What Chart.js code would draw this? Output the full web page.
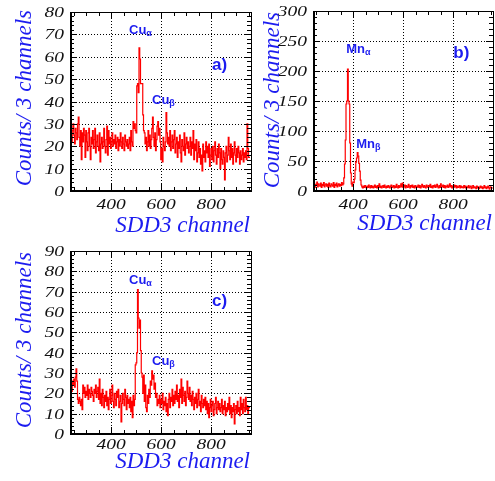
<!DOCTYPE html>
<html>
<head>
<meta charset="utf-8">
<script src="https://cdn.jsdelivr.net/npm/chart.js@4/dist/chart.umd.min.js"></script>
<style>
  html, body { margin: 0; padding: 0; background: #fff; }
  body { width: 495px; height: 481px; position: relative; overflow: hidden; }
  canvas { position: absolute; }
</style>
</head>
<body>
<canvas id="chartA" width="260" height="235" style="left:0;top:0"></canvas>
<canvas id="chartB" width="240" height="235" style="left:255px;top:0"></canvas>
<canvas id="chartC" width="260" height="246" style="left:0;top:235px"></canvas>
<script>
// SDD3 spectra, counts per 3 channels
const binWidth = 3;
const startA = 236, startB = 240, startC = 236;

const countsA = [
  32, 24, 29, 22, 27, 30, 25, 21, 28, 26, 23, 30, 33, 24, 20, 27, 14, 26, 22, 28,
  25, 15, 27, 22, 18, 26, 28, 20, 14, 24, 21, 27, 19, 23, 28, 17, 22, 25, 20, 18,
  26, 13, 21, 24, 19, 22, 28, 20, 17, 23, 29, 16, 27, 21, 24, 19, 22, 26, 20, 23,
  21, 25, 19, 22, 24, 18, 23, 20, 26, 22, 19, 24, 21, 18, 25, 22, 20, 23, 19, 21,
  24, 18, 27, 22, 20, 31, 28, 30, 27, 26, 47, 48, 44, 64, 59, 48, 48, 48, 34, 27,
  26, 21, 24, 18, 22, 27, 20, 25, 19, 23, 28, 33, 24, 20, 26, 18, 23, 29, 31, 25,
  28, 22, 14, 19, 13, 24, 20, 18, 22, 35, 26, 21, 24, 20, 27, 18, 22, 25, 19, 23,
  27, 17, 21, 24, 15, 22, 19, 25, 17, 13, 23, 20, 18, 26, 16, 21, 24, 19, 22, 17,
  20, 24, 16, 22, 19, 27, 14, 21, 18, 23, 13, 17, 22, 15, 19, 12, 16, 9, 21, 15,
  18, 13, 22, 17, 20, 15, 21, 11, 16, 19, 14, 20, 13, 18, 22, 16, 12, 19, 15, 21,
  17, 10, 19, 14, 12, 18, 15, 5, 17, 20, 13, 16, 24, 18, 14, 21, 15, 19, 12, 17,
  22, 16, 13, 19, 15, 20, 17, 12, 18, 14, 16, 19, 13, 17, 15, 18, 14, 30, 19, 15
];

const countsB = [
  19, 8, 14, 6, 11, 9, 15, 7, 12, 10, 8, 13, 6, 11, 9, 14, 7, 10, 12, 8,
  11, 6, 13, 9, 7, 12, 10, 8, 14, 6, 11, 9, 13, 7, 10, 12, 8, 11, 9, 14,
  10, 12, 22, 45, 85, 145, 150, 203, 150, 145, 80, 30, 12, 8, 15, 14, 20, 35, 48, 55,
  64, 58, 46, 33, 18, 10, 7, 5, 8, 6, 9, 7, 5, 8, 6, 10, 7, 5, 9, 6,
  8, 5, 7, 10, 6, 8, 5, 9, 7, 12, 6, 8, 5, 7, 9, 6, 10, 7, 5, 8,
  6, 9, 7, 5, 8, 10, 6, 7, 9, 5, 8, 6, 11, 7, 5, 9, 6, 8, 12, 7,
  13, 6, 8, 10, 5, 9, 7, 6, 11, 8, 5, 9, 7, 10, 6, 8, 5, 9, 7, 6,
  8, 10, 6, 9, 5, 7, 11, 8, 6, 9, 7, 5, 10, 8, 6, 9, 7, 11, 6, 8,
  5, 9, 7, 10, 6, 8, 11, 7, 5, 9, 6, 12, 8, 7, 10, 6, 9, 5, 8, 7,
  10, 6, 8, 12, 7, 9, 5, 8, 6, 10, 7, 9, 5, 8, 6, 7, 9, 5, 8, 6,
  7, 5, 9, 6, 8, 4, 7, 6, 9, 5, 7, 8, 4, 6, 9, 5, 7, 6, 4, 8,
  5, 7, 4, 6, 8, 5, 7, 4, 6, 9, 5, 7, 4, 6, 8, 5, 3, 7, 6, 5
];

const countsC = [
  25, 20, 27, 21, 26, 24, 27, 23, 28, 32, 26, 17, 15, 18, 16, 14, 17, 12, 24, 20,
  23, 18, 21, 19, 24, 17, 22, 20, 18, 23, 21, 19, 16, 22, 20, 24, 18, 21, 23, 17,
  27, 15, 20, 14, 22, 18, 13, 19, 16, 21, 14, 18, 12, 17, 22, 15, 19, 24, 16, 13,
  20, 17, 14, 21, 18, 22, 13, 16, 19, 6, 15, 20, 17, 14, 22, 18, 12, 19, 15, 17,
  13, 18, 11, 16, 8, 19, 14, 17, 34, 35, 40, 71, 57, 52, 56, 41, 30, 28, 20, 29,
  16, 24, 13, 11, 19, 15, 22, 18, 26, 24, 31, 27, 29, 22, 25, 18, 20, 14, 17, 15,
  19, 13, 17, 15, 20, 12, 16, 14, 18, 11, 15, 9, 17, 20, 13, 18, 16, 22, 14, 19,
  15, 21, 17, 24, 16, 19, 13, 22, 18, 27, 15, 23, 19, 16, 21, 14, 18, 26, 20, 17,
  23, 16, 19, 14, 21, 17, 12, 18, 15, 20, 13, 17, 22, 14, 16, 11, 19, 15, 13, 17,
  14, 18, 12, 16, 10, 15, 8, 13, 17, 11, 14, 16, 9, 12, 15, 18, 10, 13, 16, 12,
  15, 11, 13, 17, 10, 14, 12, 16, 9, 13, 11, 15, 12, 18, 10, 14, 8, 13, 11, 15,
  5, 12, 14, 10, 16, 11, 13, 9, 18, 12, 15, 10, 17, 13, 11, 18, 12, 14, 10, 13
];

const channelTicks = [400, 600, 800];
const countTicksA = [0, 10, 20, 30, 40, 50, 60, 70, 80];
const countTicksB = [0, 50, 100, 150, 200, 250, 300];
const countTicksC = [0, 10, 20, 30, 40, 50, 60, 70, 80, 90];

// peak labels, anchored in data units (channel, counts)
const notesA = [{ t: 'Cu', s: 'α', x: 472, y: 70 }, { t: 'Cu', s: 'β', x: 564, y: 39 }, { t: 'a)', x: 804, y: 54, big: true }];
const notesB = [{ t: 'Mn', s: 'α', x: 373, y: 230 }, { t: 'Mn', s: 'β', x: 413, y: 72 }, { t: 'b)', x: 801, y: 222, big: true }];
const notesC = [{ t: 'Cu', s: 'α', x: 472, y: 74 }, { t: 'Cu', s: 'β', x: 564, y: 34 }, { t: 'c)', x: 804, y: 63, big: true }];

const BLUE = 'rgb(28,28,240)';
const SERIF = '"Liberation Serif", "Times New Roman", serif';
const SANS = '"Liberation Sans", Arial, sans-serif';

function histPoints(start, counts) {
  const pts = [{ x: start, y: 0 }];
  counts.forEach((c, i) => pts.push({ x: start + i * binWidth, y: c }));
  pts.push({ x: start + counts.length * binWidth, y: counts[counts.length - 1] });
  return pts;
}

// frame, ROOT-like ticks, dotted grid, labels
function rootStyle(cfg) {
  return {
    id: 'rootStyle',
    beforeDatasetsDraw(chart) {
      const { ctx, chartArea: a, scales: { x, y } } = chart;
      ctx.save();
      ctx.strokeStyle = '#000';
      ctx.lineWidth = 1;
      ctx.setLineDash([1, 2]);
      ctx.beginPath();
      x.ticks.forEach(t => {
        const px = Math.round(x.getPixelForValue(t.value)) + 0.5;
        ctx.moveTo(px, a.top); ctx.lineTo(px, a.bottom);
      });
      y.ticks.forEach(t => {
        if (t.value <= y.min || t.value >= y.max) return;
        const py = Math.round(y.getPixelForValue(t.value)) + 0.5;
        ctx.moveTo(a.left, py); ctx.lineTo(a.right, py);
      });
      ctx.stroke();
      ctx.restore();
    },
    afterDatasetsDraw(chart) {
      const { ctx, chartArea: a, scales: { x, y } } = chart;
      ctx.save();
      ctx.strokeStyle = '#000';
      ctx.lineWidth = 1;
      ctx.strokeRect(Math.round(a.left) + 0.5, Math.round(a.top) + 0.5,
        Math.round(a.right - a.left), Math.round(a.bottom - a.top));
      ctx.beginPath();
      ctx.moveTo(Math.round(a.left) + 1.5, a.top); ctx.lineTo(Math.round(a.left) + 1.5, a.bottom);
      ctx.moveTo(a.left, Math.round(a.bottom) - 0.5); ctx.lineTo(a.right, Math.round(a.bottom) - 0.5);
      // y ticks both sides
      for (let v = y.min; v <= y.max + 1e-6; v += cfg.yMinor) {
        const major = Math.abs(v / cfg.yMajor - Math.round(v / cfg.yMajor)) < 1e-6;
        const len = major ? 7 : 4;
        const py = Math.round(y.getPixelForValue(v)) + 0.5;
        ctx.moveTo(a.left, py); ctx.lineTo(a.left + len, py);
        ctx.moveTo(a.right, py); ctx.lineTo(a.right - len, py);
      }
      // x ticks top and bottom
      for (let v = Math.ceil(x.min / 50) * 50; v <= x.max; v += 50) {
        const len = v % 200 === 0 ? 7 : 4;
        const px = Math.round(x.getPixelForValue(v)) + 0.5;
        ctx.moveTo(px, a.bottom); ctx.lineTo(px, a.bottom - len);
        ctx.moveTo(px, a.top); ctx.lineTo(px, a.top + len);
      }
      ctx.stroke();

      // tick labels (wide italic serif)
      ctx.fillStyle = '#111';
      ctx.font = 'italic 15px ' + SERIF;
      const wide = (txt, px, py, align) => {
        ctx.save();
        ctx.translate(px, py);
        ctx.scale(1.3, 1);
        ctx.textAlign = align;
        ctx.textBaseline = 'alphabetic';
        ctx.fillText(txt, 0, 0);
        ctx.restore();
      };
      y.ticks.forEach(t => wide(String(t.value), a.left - 6, y.getPixelForValue(t.value) + 5, 'right'));
      x.ticks.forEach(t => wide(String(t.value), x.getPixelForValue(t.value), a.bottom + cfg.xLabelDy, 'center'));

      // axis titles
      ctx.fillStyle = BLUE;
      ctx.font = 'italic 23px ' + SERIF;
      ctx.textBaseline = 'alphabetic';
      ctx.textAlign = 'right';
      ctx.fillText('SDD3 channel', a.right - 1, a.bottom + cfg.xTitleDy);
      ctx.save();
      ctx.translate(a.left - cfg.yTitleDx, a.top + cfg.yTitleDy);
      ctx.rotate(-Math.PI / 2);
      ctx.fillText('Counts/ 3 channels', 0, 0);
      ctx.restore();

      // peak labels
      cfg.notes.forEach(n => {
        const px = x.getPixelForValue(n.x), py = y.getPixelForValue(n.y);
        ctx.textAlign = 'left';
        ctx.font = (n.big ? 'bold 17px ' : 'bold 13px ') + SANS;
        ctx.fillText(n.t, px, py);
        if (n.s) {
          const w = ctx.measureText(n.t).width;
          ctx.font = 'bold 9px ' + SANS;
          ctx.fillText(n.s, px + w, py + 2);
        }
      });
      ctx.restore();
    }
  };
}

function makeChart(id, cfg) {
  const yTicks = cfg.yTicks;
  return new Chart(document.getElementById(id), {
    type: 'line',
    data: {
      datasets: [{
        data: histPoints(cfg.start, cfg.counts),
        borderColor: '#ff0000',
        borderWidth: 1.2,
        stepped: 'after',
        pointRadius: 0,
        fill: false
      }]
    },
    options: {
      responsive: false,
      animation: false,
      devicePixelRatio: 1,
      layout: { padding: { top: cfg.padTop, right: cfg.padRight, left: 0, bottom: 0 } },
      scales: {
        x: {
          type: 'linear', min: cfg.xMin, max: 960,
          afterBuildTicks: s => { s.ticks = channelTicks.map(v => ({ value: v })); },
          afterFit: s => { s.height = cfg.xHeight; },
          ticks: { display: false }, grid: { display: false }, border: { display: false }
        },
        y: {
          type: 'linear', min: 0, max: yTicks[yTicks.length - 1],
          afterBuildTicks: s => { s.ticks = yTicks.map(v => ({ value: v })); },
          afterFit: s => { s.width = cfg.yWidth; },
          ticks: { display: false }, grid: { display: false }, border: { display: false }
        }
      },
      plugins: { legend: { display: false }, tooltip: { enabled: false } }
    },
    plugins: [rootStyle(cfg)]
  });
}

makeChart('chartA', {
  start: startA, counts: countsA, yTicks: countTicksA, xMin: 236,
  padTop: 12, padRight: 9, yWidth: 70, xHeight: 44,
  yMinor: 2, yMajor: 10, xLabelDy: 18, xTitleDy: 41, yTitleDx: 39, yTitleDy: -2,
  notes: notesA
});
makeChart('chartB', {
  start: startB, counts: countsB, yTicks: countTicksB, xMin: 240,
  padTop: 11, padRight: 2, yWidth: 58, xHeight: 44,
  yMinor: 10, yMajor: 50, xLabelDy: 18, xTitleDy: 39, yTitleDx: 34, yTitleDy: 1,
  notes: notesB
});
makeChart('chartC', {
  start: startC, counts: countsC, yTicks: countTicksC, xMin: 236,
  padTop: 16, padRight: 9, yWidth: 70, xHeight: 47,
  yMinor: 2, yMajor: 10, xLabelDy: 15, xTitleDy: 34, yTitleDx: 39, yTitleDy: 1,
  notes: notesC
});
</script>
</body>
</html>
